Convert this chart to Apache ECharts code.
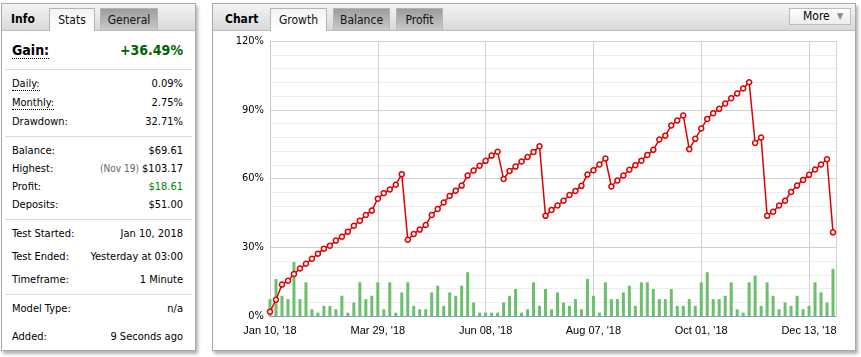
<!DOCTYPE html>
<html>
<head>
<meta charset="utf-8">
<script src="https://cdn.jsdelivr.net/npm/echarts@6/dist/echarts.min.js"></script>
<style>
body{margin:0;width:861px;height:357px;background:#fff;position:relative;overflow:hidden;font-family:"DejaVu Sans Condensed","DejaVu Sans",Tahoma,sans-serif;font-size:11px;color:#000}
.panel{position:absolute;border:1px solid #a9a9a9;background:#fff;box-shadow:2px 3px 3px rgba(0,0,0,0.3);box-sizing:border-box}
.head{position:absolute;left:0;right:0;top:0;height:26px;background:linear-gradient(#f4f4f4,#d9d9d9);border-bottom:1px solid #bdbdbd}
.title{position:absolute;top:8px;font-weight:bold;font-size:12px;line-height:14px}
.tab{position:absolute;top:4px;height:22px;border:1px solid #b5b5b5;border-bottom:none;text-align:center;line-height:23px;font-size:12px;box-sizing:border-box;color:#111}
.tab.on{background:linear-gradient(#f4f4f4,#fff);height:23px}
.tab.off{background:linear-gradient(#9c9c9c,#cacaca)}
.row{position:absolute;left:10px;right:12px;height:14px;line-height:14px}
.row .v{position:absolute;right:0;top:0}
.sep{position:absolute;left:3px;right:3px;height:1px;background:#dcdcdc}
.dot{border-bottom:1px dotted #000}
.more{position:absolute;left:576px;top:4px;width:62px;height:17px;border:1px solid #bcbcbc;background:linear-gradient(#fdfdfd,#ededed);box-sizing:border-box;font-size:12px;line-height:15px}
.more span{position:absolute;top:0}
#chart{position:absolute;left:0;top:0;width:861px;height:357px}
</style>
</head>
<body>
<div class="panel" style="left:1px;top:3px;width:195px;height:348px">
  <div class="head"></div>
  <div class="title" style="left:9px">Info</div>
  <div class="tab on" style="left:47px;width:46px">Stats</div>
  <div class="tab off" style="left:98px;width:58px">General</div>

  <div class="row" style="top:38px;height:16px;line-height:16px;font-size:14px;font-weight:bold"><span class="dot">Gain:</span><span class="v" style="color:#006400">+36.49%</span></div>
  <div class="sep" style="top:65px"></div>
  <div class="row" style="top:73px"><span class="dot">Daily:</span><span class="v">0.09%</span></div>
  <div class="row" style="top:92px"><span class="dot">Monthly:</span><span class="v">2.75%</span></div>
  <div class="row" style="top:111px">Drawdown:<span class="v">32.71%</span></div>
  <div class="sep" style="top:132px"></div>
  <div class="row" style="top:140px">Balance:<span class="v">$69.61</span></div>
  <div class="row" style="top:158px">Highest:<span class="v"><span style="color:#666;font-size:10px">(Nov 19)</span> $103.17</span></div>
  <div class="row" style="top:176px">Profit:<span class="v" style="color:#008800">$18.61</span></div>
  <div class="row" style="top:194px">Deposits:<span class="v">$51.00</span></div>
  <div class="sep" style="top:215px"></div>
  <div class="row" style="top:223px">Test Started:<span class="v">Jan 10, 2018</span></div>
  <div class="row" style="top:246px">Test Ended:<span class="v">Yesterday at 03:00</span></div>
  <div class="row" style="top:269px">Timeframe:<span class="v">1 Minute</span></div>
  <div class="sep" style="top:290px"></div>
  <div class="row" style="top:298px">Model Type:<span class="v">n/a</span></div>
  <div class="row" style="top:326px">Added:<span class="v">9 Seconds ago</span></div>
</div>

<div class="panel" style="left:212px;top:3px;width:644px;height:348px">
  <div class="head"></div>
  <div class="title" style="left:12px">Chart</div>
  <div class="tab on" style="left:57px;width:57px">Growth</div>
  <div class="tab off" style="left:120px;width:57px">Balance</div>
  <div class="tab off" style="left:183px;width:47px">Profit</div>
  <div class="more"><span style="left:13px">More</span><span style="left:47px;color:#888;font-size:9px">&#9660;</span></div>
</div>

<div id="chart"></div>

<script>
// x tick labels, one every 18 points
const dateLabels = ["Jan 10, '18", "Mar 29, '18", "Jun 08, '18", "Aug 07, '18", "Oct 01, '18", "Dec 13, '18"]
const labelStep = 18

// growth in %, one value per point
const growth = [
  1.9, 7.1, 13.7, 15.4, 18.3, 20.7, 22.8, 25.0, 27.2, 29.4,
  30.7, 32.9, 34.6, 36.8, 39.4, 41.6, 44.1, 46.0, 51.2, 53.6,
  55.2, 57.3, 61.9, 33.3, 35.8, 37.7, 39.7, 44.1, 46.7, 49.5,
  52.4, 54.7, 56.9, 61.3, 63.5, 65.6, 67.7, 70.0, 71.7, 59.8,
  63.3, 65.2, 67.4, 69.4, 71.6, 74.1, 43.7, 46.3, 48.2, 50.3,
  52.8, 54.6, 56.8, 61.7, 63.6, 66.1, 68.7, 56.5, 59.1, 61.3,
  63.8, 65.8, 67.8, 70.3, 72.5, 77.0, 78.7, 83.1, 85.3, 87.5,
  72.8, 77.3, 81.8, 86.0, 88.5, 90.4, 92.7, 95.0, 97.1, 99.3,
  102.0, 75.5, 77.9, 43.7, 45.5, 48.2, 50.3, 54.1, 56.9, 59.4,
  61.6, 63.9, 66.1, 68.4, 36.5
]

// green bars (trades per point)
const trades = [
  5, 11, 6, 5, 16, 5, 10, 2, 1, 3,
  3, 2, 6, 1, 4, 10, 5, 6, 10, 2,
  10, 1, 7, 10, 3, 2, 2, 7, 9, 3,
  7, 6, 9, 13, 4, 1, 1, 1, 1, 4,
  6, 8, 1, 2, 10, 3, 8, 2, 7, 4,
  3, 5, 2, 11, 6, 1, 10, 5, 5, 7,
  9, 3, 10, 10, 8, 5, 5, 8, 3, 3,
  5, 3, 10, 13, 5, 5, 6, 10, 2, 1,
  10, 12, 3, 10, 6, 2, 4, 3, 6, 2,
  3, 10, 7, 4, 14
]

const chart = echarts.init(document.getElementById('chart'))

const axisFont = 'DejaVu Sans Condensed, DejaVu Sans, sans-serif'

let option = {
  animation: false,
  grid: { left: 270, top: 41, right: 25, bottom: 41 },
  xAxis: {
    type: 'value',
    min: 0,
    max: 94.5,
    interval: labelStep,
    axisLine: { show: true, lineStyle: { color: '#7f9bd3', width: 1 } },
    axisTick: { show: false },
    axisLabel: {
      color: '#000',
      fontSize: 11,
      fontFamily: 'Liberation Sans, Arial, sans-serif',
      margin: 9,
      showMaxLabel: false,
      formatter: function (v) {
        return dateLabels[Math.round(v / labelStep)] || ''
      }
    },
    splitLine: { show: true, lineStyle: { color: '#d2d2d2', width: 1 } }
  },
  yAxis: [
    {
      type: 'value',
      min: 0,
      max: 120,
      interval: 30,
      axisLine: { show: true, lineStyle: { color: '#c8c8c8' } },
      axisTick: { show: false },
      axisLabel: { color: '#000', fontSize: 11, fontFamily: axisFont, margin: 6, formatter: '{value}%' },
      splitLine: { show: true, lineStyle: { color: '#d2d2d2' } },
      minorTick: { show: false, splitNumber: 5 },
      minorSplitLine: { show: true, lineStyle: { color: '#ededed' } }
    },
    {
      type: 'value',
      min: 0,
      max: 81.6,
      show: false,
      splitLine: { show: false }
    }
  ],
  series: [
    {
      type: 'bar',
      yAxisIndex: 1,
      barWidth: 3,
      itemStyle: { color: '#6cbf6c' },
      data: trades.map(function (v, i) { return [i, v] }),
      z: 2
    },
    {
      type: 'line',
      yAxisIndex: 0,
      symbol: 'circle',
      symbolSize: 5,
      showAllSymbol: true,
      lineStyle: { color: '#e00000', width: 1.5 },
      itemStyle: { color: '#fff', borderColor: '#e00000', borderWidth: 1.5 },
      data: growth.map(function (v, i) { return [i, v] }),
      z: 3
    }
  ]
}

chart.setOption(option)
</script>
</body>
</html>
